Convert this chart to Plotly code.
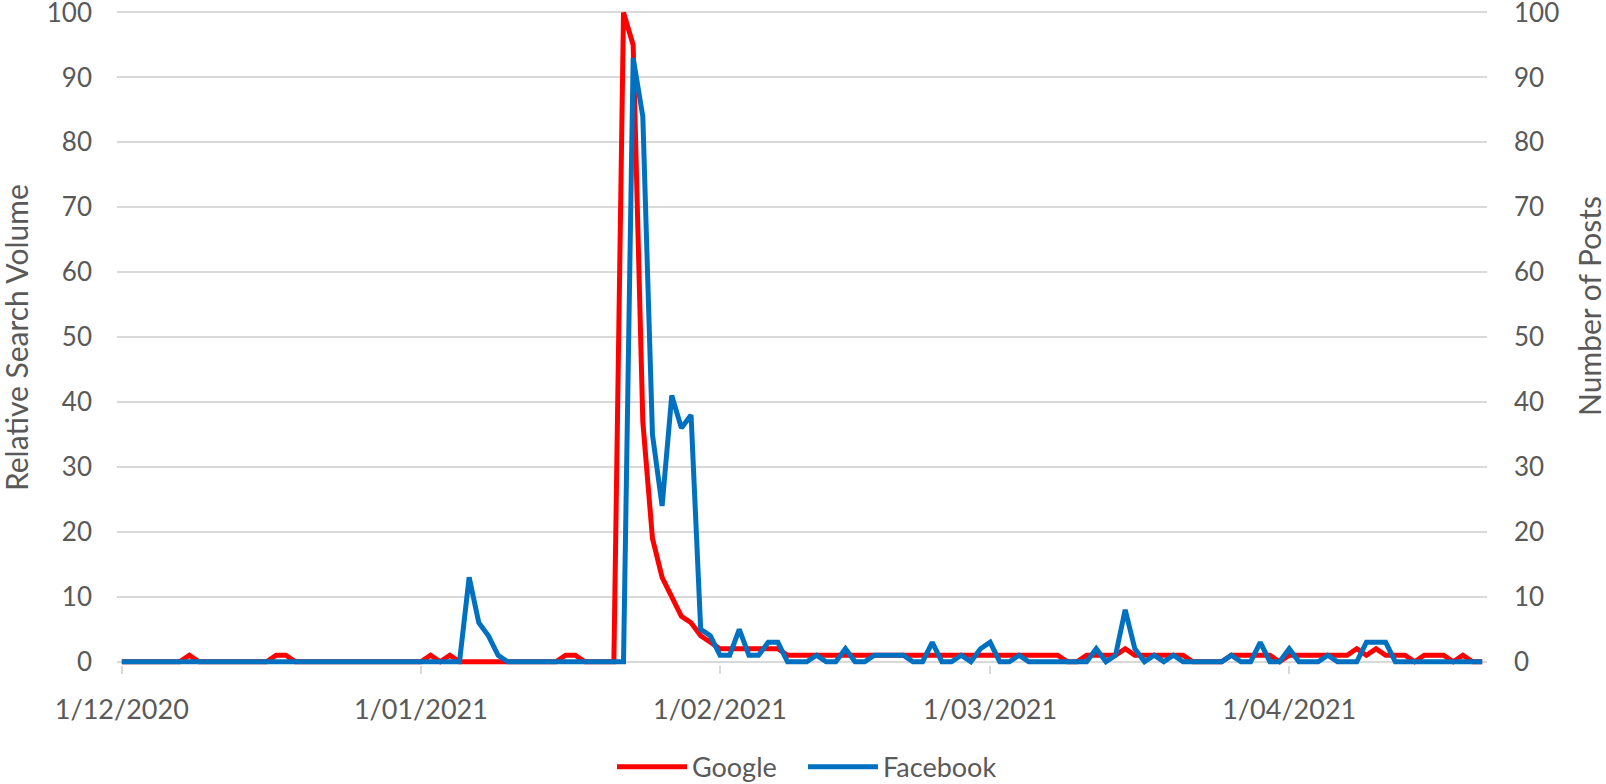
import pandas as pd
import plotly.graph_objects as go

# ---- data ----
start_date = "2020-12-01"
n_days = 142
dates = pd.date_range(start_date, periods=n_days, freq="D")

google = [0, 0, 0, 0, 0, 0, 0, 1, 0, 0, 0, 0, 0, 0, 0, 0, 1, 1,
          0, 0, 0, 0, 0, 0, 0, 0, 0, 0, 0, 0, 0, 0, 1, 0, 1,
          0, 0, 0, 0, 0, 0, 0, 0, 0, 0, 0, 1, 1, 0, 0, 0, 0,
          100, 95, 37, 19, 13, 10, 7, 6, 4, 3,
          2, 2, 2, 2, 2, 2, 2,
          1, 1, 1, 1, 1, 1, 1, 1, 1, 1, 1, 1, 1, 1, 1, 1, 1, 1, 1, 1, 1, 1, 1, 1, 1, 1, 1, 1, 1,
          0, 0, 1, 1, 1, 1, 2, 1, 1, 1, 1, 1, 1, 0, 0, 0, 0,
          1, 1, 1, 1, 1, 0, 1, 1, 1, 1, 1, 1, 1, 2, 1, 2, 1, 1, 1, 0, 1, 1, 1, 0, 1, 0, 0]

facebook = [0] * 36 + [13, 6, 4, 1] + [0] * 13 + \
    [93, 84, 35, 24, 41, 36, 38, 5, 4,
     1, 1, 5, 1, 1, 3, 3, 0, 0, 0, 1, 0, 0, 2, 0, 0, 1, 1, 1, 1, 0, 0, 3, 0, 0, 1, 0, 2, 3, 0, 0, 1,
     0, 0, 0, 0, 0, 0, 0, 2, 0, 1, 8, 2, 0, 1, 0, 1, 0, 0, 0, 0, 0, 1, 0, 0, 3, 0, 0, 2, 0, 0, 0, 1,
     0, 0, 0, 3, 3, 3] + [0] * 10

x_tick_dates = ["2020-12-01", "2021-01-01", "2021-02-01", "2021-03-01", "2021-04-01"]
x_tick_labels = ["1/12/2020", "1/01/2021", "1/02/2021", "1/03/2021", "1/04/2021"]
y_ticks = [0, 10, 20, 30, 40, 50, 60, 70, 80, 90, 100]

series_names = ["Google", "Facebook"]
left_title = "Relative Search Volume"
right_title = "Number of Posts"

# ---- styling ----
FONT = "Lato"
TXT = "#595959"
GRID = "#D9D9D9"
FS = 26
FS_X = 27
FS_TITLE = 30
FS_LEG = 27

fig = go.Figure()
fig.add_trace(go.Scatter(x=dates, y=google, name=series_names[0], mode="lines",
                         line=dict(color="#FF0000", width=5), yaxis="y", legend="legend"))
fig.add_trace(go.Scatter(x=dates, y=facebook, name=series_names[1], mode="lines",
                         line=dict(color="#0070C0", width=5), yaxis="y2", legend="legend2"))

x0 = pd.Timestamp(start_date) - pd.Timedelta(hours=12)
x1 = pd.Timestamp(start_date) + pd.Timedelta(days=n_days - 1, hours=12)

leg_common = dict(orientation="h", xref="paper", yref="container", xanchor="left",
                  y=0.0215, yanchor="middle", itemwidth=70,
                  font=dict(family=FONT, size=FS_LEG, color=TXT),
                  bgcolor="rgba(0,0,0,0)", borderwidth=0)

fig.update_layout(
    width=1606, height=784,
    margin=dict(l=117, r=119, t=6, b=119, pad=0, autoexpand=False),
    paper_bgcolor="white", plot_bgcolor="white",
    font=dict(family=FONT, size=FS, color=TXT),
    showlegend=True,
    legend=dict(x=(612 - 117) / 1370, **leg_common),
    legend2=dict(x=(803 - 117) / 1370, **leg_common),
    xaxis=dict(type="date", range=[x0, x1], tickvals=x_tick_dates, ticktext=x_tick_labels,
               showgrid=False, zeroline=False, showline=False,
               ticks="outside", ticklen=8, tickwidth=2, tickcolor=GRID,
               ticklabelstandoff=13, tickfont=dict(family=FONT, size=FS_X, color=TXT)),
    yaxis=dict(range=[-0.5, 101], tickvals=y_ticks, showgrid=True, gridcolor=GRID, gridwidth=2,
               zeroline=False, showline=False, ticks="", ticklabelstandoff=24,
               ticklabeloverflow="allow",
               tickfont=dict(family=FONT, size=FS, color=TXT)),
    yaxis2=dict(range=[-0.5, 101], tickvals=y_ticks, overlaying="y", side="right", showgrid=False,
                zeroline=False, showline=False, ticks="", ticklabelstandoff=26,
                ticklabeloverflow="allow",
                tickfont=dict(family=FONT, size=FS, color=TXT)),
    annotations=[
        dict(text=left_title, textangle=-90, xref="paper", yref="paper",
             x=-0.0733, y=0.497, xanchor="center", yanchor="middle", showarrow=False,
             font=dict(family=FONT, size=FS_TITLE, color=TXT)),
        dict(text=right_title, textangle=-90, xref="paper", yref="paper",
             x=1.0745, y=0.545, xanchor="center", yanchor="middle", showarrow=False,
             font=dict(family=FONT, size=FS_TITLE, color=TXT)),
    ],
)

fig.write_html("out.html", config={"displayModeBar": False},
               post_script="document.body.style.margin='0px';document.body.style.overflow='hidden';")
